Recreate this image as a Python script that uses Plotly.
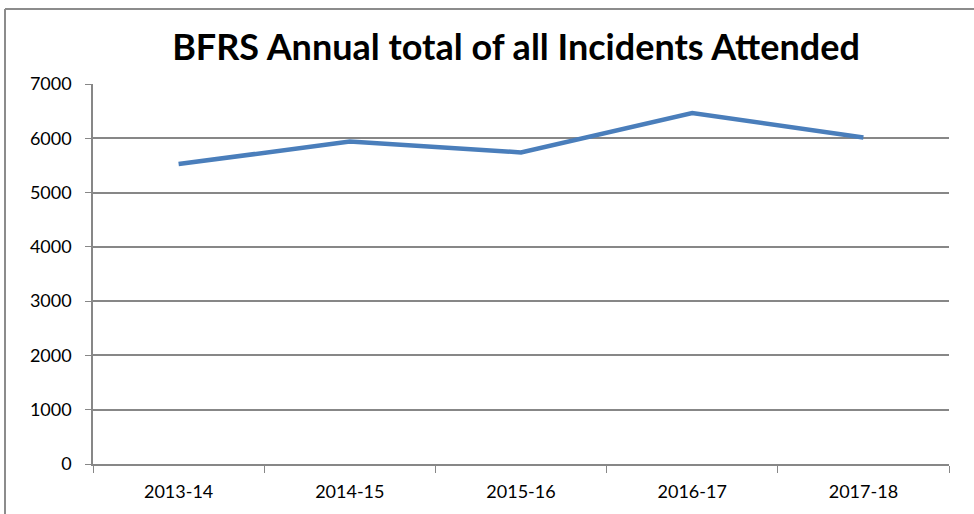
import plotly.graph_objects as go

categories = ["2013-14", "2014-15", "2015-16", "2016-17", "2017-18"]
incidents = [5525, 5940, 5740, 6465, 6015]
y_ticks = [0, 1000, 2000, 3000, 4000, 5000, 6000, 7000]

W, H = 974, 514
ml, mr, mt, mb = 93, 25, 84, 50
pw, ph = W - ml - mr, H - mt - mb

def px(x):
    return (x - ml) / pw

def py(y):
    return (H - mb - y) / ph

grey = "#878787"
font_fam = "Lato, Open Sans, sans-serif"

fig = go.Figure()
fig.add_trace(go.Scatter(
    x=categories, y=incidents, mode="lines",
    line=dict(color="#4A7EBB", width=4.5),
    hoverinfo="x+y", showlegend=False,
))

fig.update_layout(
    width=W, height=H,
    margin=dict(l=ml, r=mr, t=mt, b=mb),
    paper_bgcolor="white", plot_bgcolor="white",
    title=dict(
        text="<b>BFRS Annual total of all Incidents Attended</b>",
        x=516 / W, xref="container", xanchor="center",
        y=1 - 47 / H, yref="container", yanchor="middle",
        font=dict(family=font_fam, size=36, color="black"),
    ),
    xaxis=dict(
        type="category", range=[-0.5, 4.5],
        showgrid=False, showline=True, linecolor=grey, linewidth=1.5,
        ticks="outside", tickson="boundaries", ticklen=7, tickcolor=grey, tickwidth=1,
        ticklabelstandoff=11,
        tickfont=dict(family=font_fam, size=18, color="black"),
        fixedrange=True,
    ),
    yaxis=dict(
        range=[0, 7000], tickvals=y_ticks,
        showgrid=True, gridcolor=grey, gridwidth=1.5,
        showline=True, linecolor=grey, linewidth=1.5,
        ticks="outside", ticklen=6, tickcolor=grey, tickwidth=1,
        ticklabelstandoff=10,
        tickfont=dict(family=font_fam, size=18, color="black"),
        zeroline=False, fixedrange=True,
    ),
    shapes=[
        dict(type="line", xref="paper", yref="paper",
             x0=px(5), x1=px(W + 5), y0=py(9), y1=py(9),
             line=dict(color="#8c8c8c", width=2)),
        dict(type="line", xref="paper", yref="paper",
             x0=px(5), x1=px(5), y0=py(9), y1=py(H + 5),
             line=dict(color="#8c8c8c", width=2)),
    ],
)

fig.write_html("out.html")
